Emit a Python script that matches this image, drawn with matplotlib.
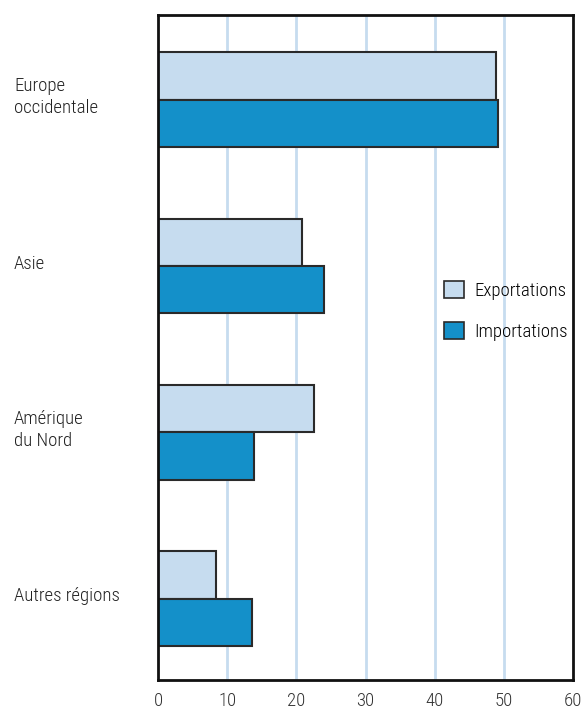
import matplotlib
matplotlib.use("Agg")
import matplotlib.pyplot as plt
import numpy as np
from matplotlib.patches import Patch

categories = ["Europe\noccidentale", "Asie", "Amérique\ndu Nord", "Autres régions"]
exportations = [48.8, 20.8, 22.6, 8.4]
importations = [49.2, 24.0, 13.9, 13.6]
xticks = [0, 10, 20, 30, 40, 50, 60]

plt.rcParams['font.family'] = ['Roboto Condensed', 'DejaVu Sans']
plt.rcParams['font.weight'] = 300
fs = 13.5

fig = plt.figure(figsize=(5.87, 7.10), dpi=100)
ax = fig.add_axes([158/587, 30/710, 415/587, 665/710])

c_exp = "#c6dcef"
c_imp = "#1490c9"
edge = "#2a2a2a"
h = 0.285
y = np.arange(len(categories))

ax.barh(y - h/2, exportations, height=h, color=c_exp, edgecolor=edge, linewidth=1.5, zorder=3, label="Exportations")
ax.barh(y + h/2, importations, height=h, color=c_imp, edgecolor=edge, linewidth=1.5, zorder=3, label="Importations")

ax.set_xlim(0, 60)
ax.set_ylim(3.49, -0.51)
ax.set_xticks(xticks)
ax.set_xticklabels([str(t) for t in xticks], fontsize=fs, color="#333333", fontweight=300)
ax.tick_params(axis="x", length=0, pad=9)
ax.set_yticks([])
for x in xticks[1:-1]:
    ax.axvline(x, color="#c6dcef", linewidth=2, zorder=1)
for s in ax.spines.values():
    s.set_linewidth(2)
    s.set_color("#111111")
    s.set_zorder(6)

for yi, lab in zip(y, categories):
    ax.text(-144/6.917, yi - 0.015, lab, fontsize=fs, color="#222222", fontweight=300,
            ha="left", va="center", linespacing=1.3, transform=ax.transData, clip_on=False)

handles = [Patch(facecolor=c_exp, edgecolor=edge, linewidth=1.2, label="Exportations"),
           Patch(facecolor=c_imp, edgecolor=edge, linewidth=1.2, label="Importations")]
leg = ax.legend(handles=handles, loc="center left", bbox_to_anchor=(0.654, 0.555),
                frameon=False,
                prop={'size': fs, 'weight': 300}, handlelength=1.05, handleheight=1.05,
                handletextpad=0.55, labelspacing=1.15, borderpad=0.3)
leg.set_zorder(5)

fig.savefig("out.png", dpi=100)
